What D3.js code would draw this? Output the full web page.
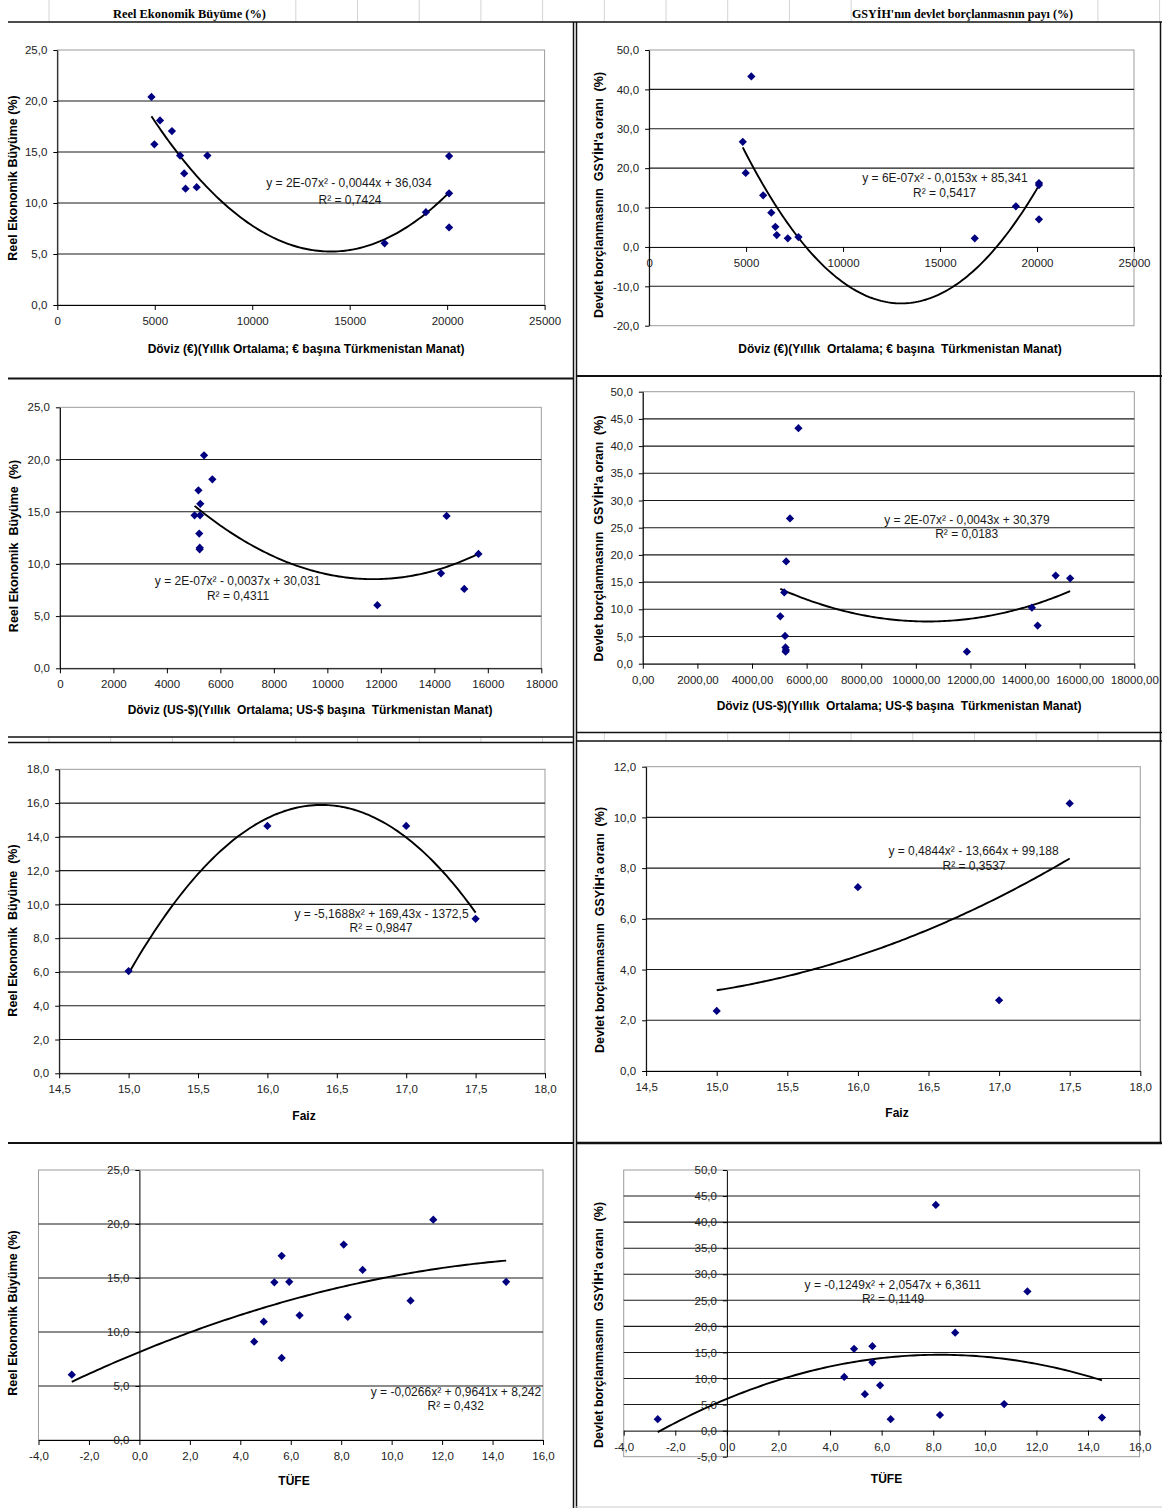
<!DOCTYPE html>
<html lang="tr">
<head>
  <meta charset="utf-8">
  <title>Türkmenistan: büyüme, borç, döviz, faiz, TÜFE</title>
  <script src="https://d3js.org/d3.v7.min.js"></script>
  <style>
    body { margin: 0; background: #fff; }
    svg { display: block; }
  </style>
</head>
<body>
<script>
  // ---- data (one entry per year) ----
  const euroRate = [4830, 4980, 5270, 5880, 6300, 6510, 6580, 7150, 7700, 16790, 18910, 20100, 20100, 20100];
  const usdRate  = [5390, 5250, 5700, 5180, 5035, 5210, 5225, 5230, 5240, 11870, 14250, 14460, 15120, 15650];
  const cpi      = [11.65, 8.85, 8.1, 5.64, 5.94, 10.75, 8.26, 6.35, 14.54, -2.68, 4.55, 5.35, 5.64, 4.93];
  const growth   = [20.4, 15.75, 18.1, 17.05, 14.65, 12.9, 11.4, 11.55, 14.65, 6.05, 9.1, 14.6, 7.6, 10.95];
  const debt     = [26.7, 18.8, 43.3, 13.1, 8.7, 5.1, 3.0, 2.2, 2.5, 2.2, 10.3, 7.0, 16.2, 15.7];

  // interest rate only has four years
  const faiz       = [15.0, 16.0, 17.0, 17.5];
  const faizGrowth = [6.05, 14.65, 14.65, 9.15];
  const faizDebt   = [2.37, 7.25, 2.79, 10.55];

  // ---- tick values ----
  const euroTicks = [0, 5000, 10000, 15000, 20000, 25000];
  const usdTicks = [0, 2000, 4000, 6000, 8000, 10000, 12000, 14000, 16000, 18000];
  const faizTicks = [14.5, 15, 15.5, 16, 16.5, 17, 17.5, 18];
  const cpiTicks = [-4, -2, 0, 2, 4, 6, 8, 10, 12, 14, 16];
  const growthTicks = [0, 5, 10, 15, 20, 25];
  const growthTicksFaiz = [0, 2, 4, 6, 8, 10, 12, 14, 16, 18];
  const debtTicksEuro = [-20, -10, 0, 10, 20, 30, 40, 50];
  const debtTicksUsd = [0, 5, 10, 15, 20, 25, 30, 35, 40, 45, 50];
  const debtTicksFaiz = [0, 2, 4, 6, 8, 10, 12];
  const debtTicksCpi = [-5, 0, 5, 10, 15, 20, 25, 30, 35, 40, 45, 50];

  // ---- texts ----
  const headers = ["Reel Ekonomik Büyüme (%)", "GSYİH'nın devlet borçlanmasnın payı (%)"];
  const equations = [
    "y = 2E-07x² - 0,0044x + 36,034",
    "y = 6E-07x² - 0,0153x + 85,341",
    "y = 2E-07x² - 0,0037x + 30,031",
    "y = 2E-07x² - 0,0043x + 30,379",
    "y = -5,1688x² + 169,43x - 1372,5",
    "y = 0,4844x² - 13,664x + 99,188",
    "y = -0,0266x² + 0,9641x + 8,242",
    "y = -0,1249x² + 2,0547x + 6,3611"
  ];
  const rSquared = ["R² = 0,7424", "R² = 0,5417", "R² = 0,4311", "R² = 0,0183",
                    "R² = 0,9847", "R² = 0,3537", "R² = 0,432", "R² = 0,1149"];
  const euroTitle = "Döviz (€)(Yıllık Ortalama; € başına Türkmenistan Manat)";
  const euroTitle2 = "Döviz (€)(Yıllık\u00A0 Ortalama; € başına\u00A0 Türkmenistan Manat)";
  const usdTitle = "Döviz (US-$)(Yıllık\u00A0 Ortalama; US-$ başına\u00A0 Türkmenistan Manat)";
  const growthTitle = "Reel Ekonomik Büyüme (%)";
  const growthTitle2 = "Reel Ekonomik\u00A0 Büyüme\u00A0 (%)";
  const debtTitle = "Devlet borçlanmasnın\u00A0 GSYİH'a oranı\u00A0 (%)";

  const W = 1162, H = 1508;
  const sans = "'Liberation Sans', Arial, sans-serif";
  const loc = d3.formatLocale({ decimal: ",", thousands: ".", grouping: [3], currency: ["", ""], minus: "-" });

  const svg = d3.select("body").append("svg")
    .attr("width", W).attr("height", H)
    .attr("font-family", sans);
  svg.append("rect").attr("width", W).attr("height", H).attr("fill", "#fff");

  // spreadsheet cell lines showing between the chart objects
  const cellX = d3.range(19).map(i => 49 + i * 61.7);
  const strips = [[0, 22, 0, W], [737, 742.5, 0, 574], [732.5, 741, 576, W]];
  strips.forEach(([y0, y1, xa, xb], si) => {
    svg.selectAll(null)
      .data(cellX.filter(x => x > xa && x < xb && (si > 0 || x < 110 || (x > 270 && x < 852) || x > 1075)))
      .join("line")
      .attr("x1", d => d).attr("x2", d => d)
      .attr("y1", y0).attr("y2", y1)
      .attr("stroke", "#d4d4d4").attr("stroke-width", 1);
  });

  svg.append("text").attr("x", 113).attr("y", 18)
    .attr("font-family", "'Liberation Serif', 'Times New Roman', serif")
    .attr("font-weight", "bold").attr("font-size", 12.5)
    .attr("textLength", 153).attr("lengthAdjust", "spacingAndGlyphs")
    .text(headers[0]);
  svg.append("text").attr("x", 852).attr("y", 18)
    .attr("font-family", "'Liberation Serif', 'Times New Roman', serif")
    .attr("font-weight", "bold").attr("font-size", 12.5)
    .attr("textLength", 221).attr("lengthAdjust", "spacingAndGlyphs")
    .text(headers[1]);

  // chart object borders
  const frame = [
    [8, 22, W, 22, 1.5],
    [573.5, 22, 573.5, H, 1.5],
    [576.5, 22, 576.5, H, 1.5],
    [1160.5, 22, 1160.5, 1143, 1.5],
    [8, 378.5, 574, 378.5, 2],
    [576, 376, W, 376, 2],
    [8, 737, 574, 737, 1.5],
    [8, 742.5, 574, 742.5, 1.5],
    [576, 732.5, W, 732.5, 1.5],
    [576, 741, W, 741, 1.5],
    [8, 1143, 574, 1143, 2],
    [576, 1143, W, 1143, 2.5]
  ];
  svg.selectAll(null).data(frame).join("line")
    .attr("x1", d => d[0]).attr("y1", d => d[1])
    .attr("x2", d => d[2]).attr("y2", d => d[3])
    .attr("stroke", "#111").attr("stroke-width", d => d[4]);
  svg.append("line").attr("x1", 576).attr("x2", W).attr("y1", 1507).attr("y2", 1507)
    .attr("stroke", "#ccc");

  // least squares quadratic (Excel "polynomial, order 2" trendline)
  function quadFit(xs, ys) {
    const mx = d3.mean(xs), sx = d3.deviation(xs);
    const t = xs.map(v => (v - mx) / sx);
    const S = k => d3.sum(t, v => v ** k);
    const T = k => d3.sum(t, (v, i) => v ** k * ys[i]);
    const A = [[xs.length, S(1), S(2)], [S(1), S(2), S(3)], [S(2), S(3), S(4)]];
    const b = [T(0), T(1), T(2)];
    const det = m => m[0][0] * (m[1][1] * m[2][2] - m[1][2] * m[2][1])
      - m[0][1] * (m[1][0] * m[2][2] - m[1][2] * m[2][0])
      + m[0][2] * (m[1][0] * m[2][1] - m[1][1] * m[2][0]);
    const D = det(A);
    const c = [0, 1, 2].map(k => det(A.map((row, i) => row.map((v, j) => j === k ? b[i] : v))) / D);
    return v => { const u = (v - mx) / sx; return c[0] + c[1] * u + c[2] * u * u; };
  }

  function styleAxis(sel) {
    sel.attr("font-family", sans).attr("font-size", 11.5);
    sel.select(".domain").attr("stroke", "#000");
    sel.selectAll(".tick line").attr("stroke", "#000");
    sel.selectAll(".tick text").attr("fill", "#222");
  }

  const panels = [
    { box: [57.3, 50, 544.6, 305], xs: euroRate, ys: growth, xTicks: euroTicks, xFmt: "d",
      yTicks: growthTicks, xTitle: euroTitle, xt: [306, 349], yTitle: growthTitle, yt: [13, 178],
      e1: [349, 183], e2: [350, 199.5] },
    { box: [649.1, 50, 1134, 325.7], xs: euroRate, ys: debt, xTicks: euroTicks, xFmt: "d",
      yTicks: debtTicksEuro, xAt: 0, xTitle: euroTitle2, xt: [900, 348.3], yTitle: debtTitle, yt: [598.6, 195],
      e1: [945, 177.7], e2: [944.5, 192.3] },
    { box: [59.9, 407.3, 541.3, 668.3], xs: usdRate, ys: growth, xTicks: usdTicks, xFmt: "d",
      yTicks: growthTicks, xTitle: usdTitle, xt: [310, 709.3], yTitle: growthTitle2, yt: [13.7, 546],
      e1: [237.6, 581], e2: [238, 595.7] },
    { box: [642.8, 391.7, 1134.3, 663.7], xs: usdRate, ys: debt, xTicks: usdTicks, xFmt: ".2f",
      yTicks: debtTicksUsd, xTitle: usdTitle, xt: [899, 706], yTitle: debtTitle, yt: [598.2, 538.5],
      e1: [967, 519.3], e2: [966.7, 534] },
    { box: [59.2, 769.3, 545, 1073.3], xs: faiz, ys: faizGrowth, xTicks: faizTicks, xFmt: ".1f",
      yTicks: growthTicksFaiz, xTitle: "Faiz", xt: [304, 1115.7], yTitle: growthTitle2, yt: [13, 930.5],
      e1: [381.5, 913.3], e2: [381, 927.7] },
    { box: [646.1, 766.7, 1140.3, 1071], xs: faiz, ys: faizDebt, xTicks: faizTicks, xFmt: ".1f",
      yTicks: debtTicksFaiz, xTitle: "Faiz", xt: [897, 1112.7], yTitle: debtTitle, yt: [599.3, 930],
      e1: [973.5, 851], e2: [974, 865.7] },
    { box: [38.5, 1170, 543, 1440], xs: cpi, ys: growth, xTicks: cpiTicks, xFmt: ".1f",
      yTicks: growthTicks, yAt: 0, xTitle: "TÜFE", xt: [294, 1481], yTitle: growthTitle, yt: [13, 1313],
      e1: [456, 1391.7], e2: [455.7, 1406] },
    { box: [623.7, 1170, 1139.6, 1456.7], xs: cpi, ys: debt, xTicks: cpiTicks, xFmt: ".1f",
      yTicks: debtTicksCpi, xAt: 0, yAt: 0, xTitle: "TÜFE", xt: [886.5, 1479], yTitle: debtTitle, yt: [598.6, 1325],
      e1: [892.7, 1284.3], e2: [893, 1299] }
  ];

  const diamond = d3.symbol().type(d3.symbolSquare).size(34)();

  panels.forEach((p, i) => {
    const [l, t, r, b] = p.box;
    const x = d3.scaleLinear().domain(d3.extent(p.xTicks)).range([l, r]);
    const y = d3.scaleLinear().domain(d3.extent(p.yTicks)).range([b, t]);
    const xAt = p.xAt ?? y.domain()[0];
    const yAt = p.yAt ?? x.domain()[0];
    const g = svg.append("g");

    g.append("rect")
      .attr("x", l).attr("y", t).attr("width", r - l).attr("height", b - t)
      .attr("fill", "none").attr("stroke", "#9c9c9c").attr("stroke-width", 1);

    g.selectAll(".grid")
      .data(p.yTicks.filter(v => v !== xAt && v !== y.domain()[0] && v !== y.domain()[1]))
      .join("line").attr("class", "grid")
      .attr("x1", l).attr("x2", r)
      .attr("y1", d => y(d)).attr("y2", d => y(d))
      .attr("stroke", "#1a1a1a").attr("stroke-width", 1.1);

    g.append("g").attr("transform", `translate(0,${y(xAt)})`)
      .call(d3.axisBottom(x).tickValues(p.xTicks).tickFormat(loc.format(p.xFmt))
        .tickSize(5).tickSizeOuter(0).tickPadding(7))
      .call(styleAxis);

    g.append("g").attr("transform", `translate(${x(yAt)},0)`)
      .call(d3.axisLeft(y).tickValues(p.yTicks).tickFormat(loc.format(".1f"))
        .tickSize(4).tickSizeOuter(0).tickPadding(6))
      .call(styleAxis);

    const fit = quadFit(p.xs, p.ys);
    const [lo, hi] = d3.extent(p.xs);
    const samples = d3.range(121).map(k => lo + (hi - lo) * k / 120);
    g.append("path")
      .attr("d", d3.line().x(v => x(v)).y(v => y(fit(v))).curve(d3.curveLinear)(samples))
      .attr("fill", "none").attr("stroke", "#000").attr("stroke-width", 1.9);

    g.selectAll(".pt").data(p.xs).join("path").attr("class", "pt")
      .attr("d", diamond)
      .attr("transform", (d, k) => `translate(${x(d)},${y(p.ys[k])}) rotate(45)`)
      .attr("fill", "#000080");

    g.append("text").attr("x", p.e1[0]).attr("y", p.e1[1]).attr("dy", "0.35em")
      .attr("text-anchor", "middle").attr("font-size", 12).attr("fill", "#1a1a1a")
      .text(equations[i]);
    g.append("text").attr("x", p.e2[0]).attr("y", p.e2[1]).attr("dy", "0.35em")
      .attr("text-anchor", "middle").attr("font-size", 12).attr("fill", "#1a1a1a")
      .text(rSquared[i]);

    g.append("text").attr("x", p.xt[0]).attr("y", p.xt[1]).attr("dy", "0.35em")
      .attr("text-anchor", "middle").attr("font-size", 12).attr("font-weight", "bold")
      .text(p.xTitle);
    g.append("text")
      .attr("transform", `translate(${p.yt[0]},${p.yt[1]}) rotate(-90)`)
      .attr("dy", "0.35em").attr("text-anchor", "middle")
      .attr("font-size", 12.5).attr("font-weight", "bold")
      .text(p.yTitle);
  });
</script>
</body>
</html>
